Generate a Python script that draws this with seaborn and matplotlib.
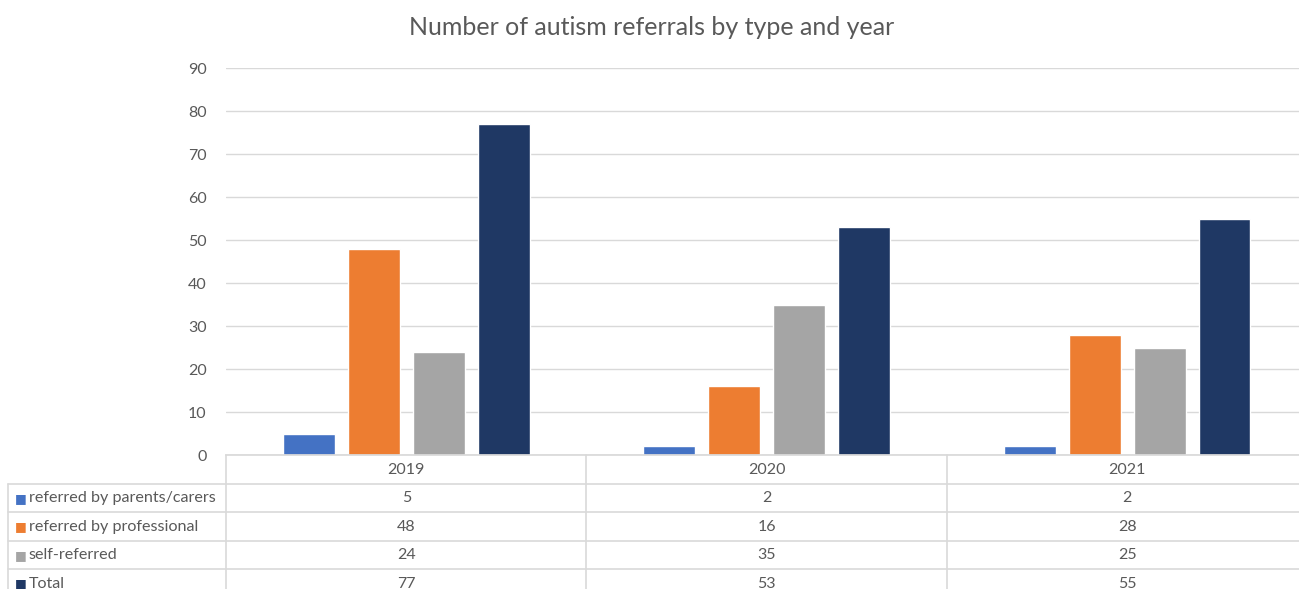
import pandas as pd
import matplotlib.pyplot as plt
import seaborn as sns

# chart data
years = ["2019", "2020", "2021"]
series = ["referred by parents/carers", "referred by professional", "self-referred", "Total"]
parents = [5, 2, 2]
professional = [48, 16, 28]
self_referred = [24, 35, 25]
total = [77, 53, 55]
colors = ["#4472C4", "#ED7D31", "#A5A5A5", "#1F3864"]

values = [parents, professional, self_referred, total]
df = pd.DataFrame({
    "year": [y for _ in series for y in years],
    "type": [s for s in series for _ in years],
    "count": [v for vals in values for v in vals],
})

sns.set_theme(style="white")
plt.rcParams["font.family"] = ["Lato", "DejaVu Sans"]
text_col = "#595959"
grid_col = "#D9D9D9"

fig = plt.figure(figsize=(12.99, 5.89), dpi=100)
ax = fig.add_axes([0.174, 0.2275, 0.8325, 0.657])

sns.barplot(data=df, x="year", y="count", hue="type", palette=colors,
            width=0.72, gap=0.2, ax=ax, legend=False, saturation=1)

ax.set_ylim(0, 90)
ax.set_yticks(range(0, 91, 10))
ax.set_xlim(-0.5, 2.5)
ax.yaxis.grid(True, color=grid_col, linewidth=1)
ax.set_axisbelow(True)
for s in ["top", "right", "left"]:
    ax.spines[s].set_visible(False)
ax.spines["bottom"].set_color(grid_col)
ax.tick_params(axis="y", length=0, labelsize=11.5, labelcolor=text_col, pad=14)
ax.set_xticks([])
ax.set_xlabel("")
ax.set_ylabel("")

fig.text(0.502, 0.953, "Number of autism referrals by type and year",
         ha="center", va="center", fontsize=18, color=text_col)

# data table below the axes
trans = ax.get_xaxis_transform()
row_h = 0.0735
hdr_h = 0.075
label_left = (8 - 226) / (1081.5) * 3 - 0.5  # in data units

def hline(y, x0):
    ax.plot([x0, 2.6], [y, y], transform=trans, color=grid_col, lw=1.2, clip_on=False)

n_rows = len(series)
y_hdr_bottom = -hdr_h
hline(y_hdr_bottom, label_left)
for i in range(n_rows):
    hline(y_hdr_bottom - row_h * (i + 1), label_left)

bottom = y_hdr_bottom - row_h * n_rows - 0.05
for xb in [-0.5, 0.5, 1.5]:
    ax.plot([xb, xb], [0, bottom], transform=trans, color=grid_col, lw=1.2, clip_on=False)
ax.plot([label_left, label_left], [y_hdr_bottom, bottom], transform=trans,
        color=grid_col, lw=1.2, clip_on=False)

for j, yr in enumerate(years):
    ax.text(j, -hdr_h / 2, yr, transform=trans, ha="center", va="center",
            fontsize=11.5, color=text_col)

for i, (name, vals, c) in enumerate(zip(series, values, colors)):
    yc = y_hdr_bottom - row_h * (i + 0.5)
    ax.text(label_left + 0.018, yc, "■", transform=trans, ha="left", va="center",
            fontsize=9, color=c, family="DejaVu Sans")
    ax.text(label_left + 0.058, yc, name, transform=trans, ha="left", va="center",
            fontsize=11.6, color=text_col)
    for j, v in enumerate(vals):
        ax.text(j, yc, str(v), transform=trans, ha="center", va="center",
                fontsize=11.5, color=text_col)

fig.savefig("out.png", dpi=100)
